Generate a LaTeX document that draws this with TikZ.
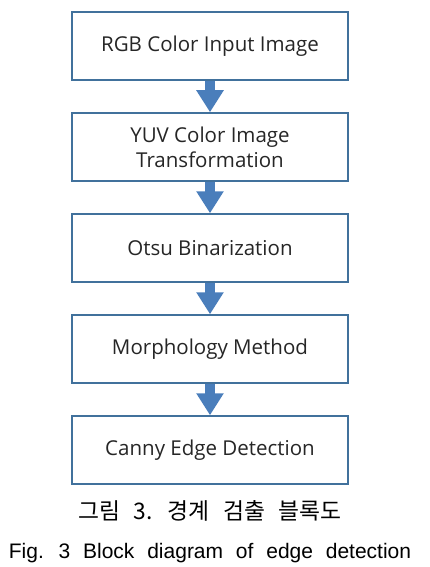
\documentclass[tikz,border=0pt]{standalone}
\usepackage{fontspec}
\setmainfont{Open Sans}
\newfontfamily\krfont[WordSpace=2.6]{Noto Sans CJK KR}
\newfontfamily\capfont[WordSpace=2.2]{Liberation Sans}
\usetikzlibrary{arrows.meta}
\definecolor{boxline}{HTML}{41719C}
\definecolor{arrowblue}{HTML}{4A7EBB}
\tikzset{
  stepbox/.style={draw=boxline, line width=1.5pt, fill=white, minimum width=276pt, minimum height=68pt, inner sep=0pt, align=center, font=\fontsize{20.5}{25}\selectfont, text=black!85},
  flowarrow/.style={draw=arrowblue, line width=10pt, -{Triangle[length=22pt,width=26pt]}, arrowblue}
}
\begin{document}
\begin{tikzpicture}[x=1pt,y=-1pt]
\useasboundingbox (0,0) rectangle (430,567);
\node[stepbox] (b1) at (210,46) {RGB Color Input Image};
\node[stepbox] (b2) at (210,147) {YUV Color Image\\Transformation};
\node[stepbox] (b3) at (210,248) {Otsu Binarization};
\node[stepbox] (b4) at (210,349) {Morphology Method};
\node[stepbox] (b5) at (210,450) {Canny Edge Detection};
\draw[flowarrow] (b1.south) -- (b2.north);
\draw[flowarrow] (b2.south) -- (b3.north);
\draw[flowarrow] (b3.south) -- (b4.north);
\draw[flowarrow] (b4.south) -- (b5.north);
\node[font=\krfont\fontsize{22.8}{24}\selectfont, anchor=base] (kc) at (210,519) {그림 3. 경계 검출 블록도};
\node[font=\capfont\fontsize{21}{24}\selectfont, anchor=base] (ec) at (210,558) {Fig. 3 Block diagram of edge detection};
\end{tikzpicture}
\end{document}
